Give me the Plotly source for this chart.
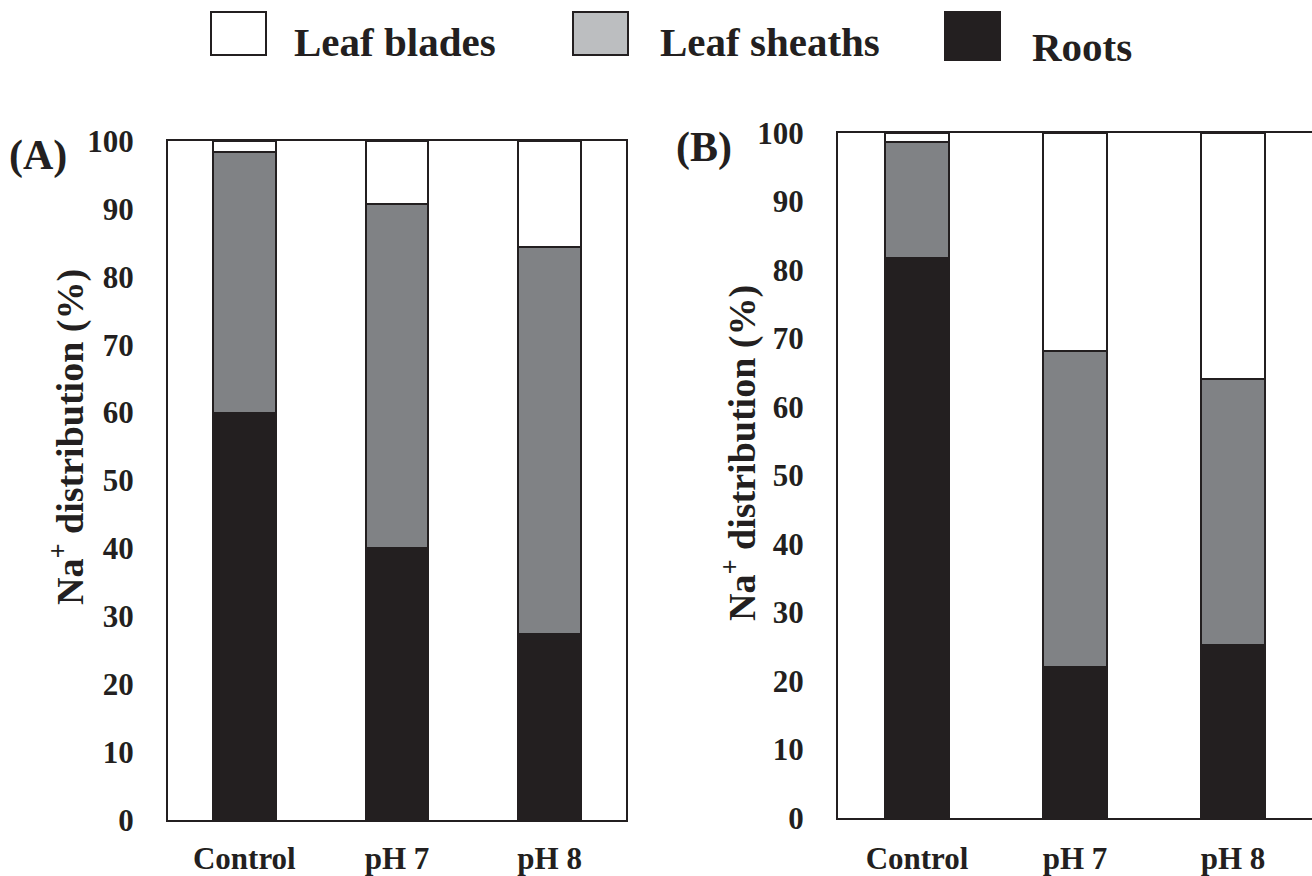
import plotly.graph_objects as go

categories = ["Control", "pH 7", "pH 8"]
series_names = ["Leaf blades", "Leaf sheaths", "Roots"]

# Panel A (%)
a_roots = [60.0, 40.0, 27.4]
a_sheaths = [38.4, 50.7, 57.0]
a_blades = [1.6, 9.3, 15.6]

# Panel B (%)
b_roots = [81.8, 22.0, 25.3]
b_sheaths = [16.9, 46.2, 38.8]
b_blades = [1.3, 31.8, 35.9]

y_ticks = [0, 10, 20, 30, 40, 50, 60, 70, 80, 90, 100]

W, H = 1312, 876
FONT = "Liberation Serif, Times New Roman, serif"
DARK = "#231f20"
fills = {"Leaf blades": "#ffffff", "Leaf sheaths": "#808285", "Roots": DARK}
legend_fills = {"Leaf blades": "#ffffff", "Leaf sheaths": "#bcbec0", "Roots": DARK}

fig = go.Figure()

def add_panel(roots, sheaths, blades, xa, ya):
    for name, vals in (("Roots", roots), ("Leaf sheaths", sheaths), ("Leaf blades", blades)):
        fig.add_trace(go.Bar(
            x=categories, y=vals, name=name, xaxis=xa, yaxis=ya,
            width=0.41, marker=dict(color=fills[name], line=dict(color=DARK, width=2)),
            showlegend=False,
        ))

add_panel(a_roots, a_sheaths, a_blades, "x", "y")
add_panel(b_roots, b_sheaths, b_blades, "x2", "y2")

def px(x):
    return x / W

def py(y):
    return 1 - y / H

axis_common = dict(showgrid=False, zeroline=False, linecolor=DARK, linewidth=2,
                   ticks="", automargin=False,
                   tickfont=dict(family=FONT, size=31, color=DARK, weight="bold"))

fig.update_layout(
    template="none",
    width=W, height=H, margin=dict(l=0, r=0, t=0, b=0, autoexpand=False),
    paper_bgcolor="white", plot_bgcolor="white",
    barmode="stack", bargap=0.59, showlegend=False,
    font=dict(family=FONT, color=DARK),
    xaxis=dict(domain=[px(168), px(626)], anchor="y", range=[-0.5, 2.5],
               showline=True, mirror=True, ticklabelstandoff=10, **axis_common),
    yaxis=dict(domain=[py(820), py(141)], anchor="x", range=[0, 100],
               tickvals=y_ticks, showline=True, mirror=True,
               ticklabelstandoff=26, **axis_common),
    xaxis2=dict(domain=[px(838), 1.0], anchor="y2", range=[-0.5, 2.5],
                showline=True, mirror=True, ticklabelstandoff=12, **axis_common),
    yaxis2=dict(domain=[py(818), py(133)], anchor="x2", range=[0, 100],
                tickvals=y_ticks, showline=True, mirror=False,
                ticklabelstandoff=26, **axis_common),
)

ann = []
# y titles
for tx, ty in ((68, 437), (740, 453)):
    ann.append(dict(x=px(tx), y=py(ty), xref="paper", yref="paper",
                    xanchor="center", yanchor="middle",
                    text="<b>Na<sup>+</sup> distribution (%)</b>", textangle=-90,
                    showarrow=False, font=dict(family=FONT, size=38, color=DARK)))
# panel labels
for tx, ty, lab in ((38, 155, "(A)"), (704, 148, "(B)")):
    ann.append(dict(x=px(tx), y=py(ty), xref="paper", yref="paper",
                    xanchor="center", yanchor="middle", text=f"<b>{lab}</b>",
                    showarrow=False, font=dict(family=FONT, size=42, color=DARK)))

# legend (drawn manually)
shapes = []
legend_boxes = [(211, 266, 12, 55), (573, 628, 12, 55), (945, 1000, 12, 60)]
legend_text_x = [292, 658, 1030]
legend_text_y = [42, 42, 47]
for name, (x0, x1, y0, y1), tx, ty in zip(series_names, legend_boxes, legend_text_x, legend_text_y):
    shapes.append(dict(type="rect", xref="paper", yref="paper",
                       x0=px(x0), x1=px(x1), y0=py(y1), y1=py(y0),
                       fillcolor=legend_fills[name], line=dict(color=DARK, width=2)))
    ann.append(dict(x=px(tx), y=py(ty), xref="paper", yref="paper",
                    xanchor="left", yanchor="middle",
                    text=f"<b>{name}</b>", showarrow=False,
                    font=dict(family=FONT, size=41, color=DARK)))

fig.update_layout(annotations=ann, shapes=shapes)
fig.write_html("out.html")
